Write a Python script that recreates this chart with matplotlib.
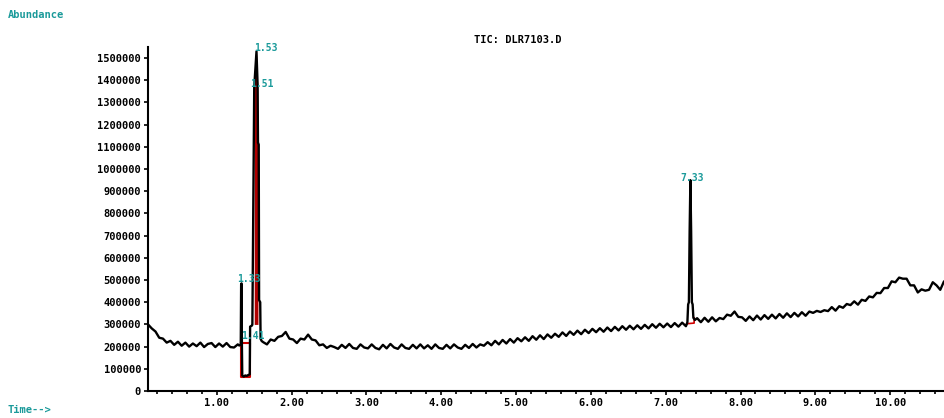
import numpy as np
import matplotlib.pyplot as plt

# ---- data, abundance in thousands ----
# early baseline, t = 0.08 .. 1.28 step 0.05
seg_a_start = 0.08
seg_a = [300, 282, 268, 240, 236, 218, 226, 208, 222, 204,
         218, 200, 214, 202, 218, 198, 212, 216, 198, 214,
         200, 216, 198, 196, 210]

# peak cluster around 1.3 - 1.6 min
peak1_t = [1.30, 1.32, 1.325, 1.33, 1.335, 1.34, 1.36, 1.38, 1.40, 1.42,
           1.44, 1.445, 1.47, 1.475, 1.50, 1.53, 1.545, 1.55, 1.56, 1.565,
           1.58, 1.585, 1.60]
peak1_y = [205, 210, 480, 485, 210, 70, 65, 70, 68, 72,
           75, 290, 295, 300, 1370, 1530, 1380, 1120, 1110, 410,
           400, 235, 225]

# middle baseline, t = 1.62 .. 7.27 step 0.05
seg_b_start = 1.62
seg_b = [220, 210, 232, 226, 244, 248, 266, 236, 232, 216,
         236, 232, 254, 232, 228, 206, 210, 194, 204, 198,
         190, 208, 194, 212, 194, 190, 210, 196, 192, 210,
         194, 188, 208, 192, 212, 196, 190, 210, 194, 190,
         208, 192, 210, 192, 206, 190, 210, 194, 190, 208,
         192, 210, 196, 190, 208, 194, 212, 196, 210, 204,
         220, 206, 226, 210, 230, 214, 234, 218, 238, 224,
         242, 226, 247, 231, 251, 234, 255, 240, 258, 244,
         264, 248, 268, 253, 272, 256, 276, 261, 280, 265,
         283, 267, 286, 270, 289, 273, 292, 276, 294, 278,
         296, 280, 298, 282, 301, 285, 303, 287, 304, 288,
         306, 290, 308, 292]

# peak at 7.33
peak2_t = [7.28, 7.29, 7.30, 7.31, 7.32, 7.33, 7.34, 7.35, 7.36, 7.37, 7.39]
peak2_y = [300, 310, 390, 400, 720, 950, 720, 400, 390, 330, 320]

# late baseline, t = 7.42 .. 10.77 step 0.05
seg_c_start = 7.42
seg_c = [328, 310, 330, 312, 332, 314, 329, 324, 344, 339,
         358, 334, 332, 316, 336, 319, 340, 322, 342, 325,
         344, 327, 347, 330, 350, 333, 352, 336, 355, 339,
         358, 352, 361, 356, 364, 360, 378, 362, 382, 375,
         392, 387, 404, 389, 411, 406, 426, 422, 442, 441,
         464, 464, 494, 490, 511, 506, 506, 476, 476, 444,
         458, 452, 456, 490, 476, 456, 494, 474]
step = 0.05

# integration marks (red)
dip_t = [1.32, 1.44]
dip_range = [63, 216]
main_t = [1.495, 1.555]
main_base = 300
p733_t = [7.28, 7.38]
p733_base = [303, 306]

peak_labels = ["1.33", "1.41", "1.51", "1.53", "7.33"]
label_pos = [(1.43, 505), (1.48, 250), (1.60, 1385), (1.66, 1545), (7.35, 960)]

title = "TIC: DLR7103.D"
teal = "#1a9a9a"

# ---- assemble trace ----
t_a = seg_a_start + step * np.arange(len(seg_a))
t_b = seg_b_start + step * np.arange(len(seg_b))
t_c = seg_c_start + step * np.arange(len(seg_c))
t = np.concatenate([t_a, peak1_t, t_b, peak2_t, t_c])
y = np.concatenate([seg_a, peak1_y, seg_b, peak2_y, seg_c]) * 1000.0

fig = plt.figure(figsize=(9.44, 4.18), dpi=100)
ax = fig.add_axes([148 / 944, 1 - 391 / 418, 1 - 148 / 944, (391 - 47) / 418])

# red integration areas
mask = (t >= main_t[0]) & (t <= main_t[1])
ax.fill_between(t[mask], main_base * 1000, y[mask], color="#b00000", lw=0)
ax.plot([dip_t[0], dip_t[0], dip_t[1], dip_t[1], dip_t[0]],
        [dip_range[1] * 1000, dip_range[0] * 1000, dip_range[0] * 1000,
         dip_range[1] * 1000, dip_range[1] * 1000], color="#d00000", lw=1.5)
ax.plot([p733_t[0], p733_t[1], p733_t[1]],
        [p733_base[0] * 1000, p733_base[1] * 1000, 330000], color="#d00000", lw=1.2)

ax.plot(t, y, color="black", lw=1.7)

for lab, (lx, ly) in zip(peak_labels, label_pos):
    ax.text(lx, ly * 1000, lab, color=teal, fontsize=7, fontweight="bold",
            family="DejaVu Sans Mono", ha="center", va="center")

ax.set_xlim(0.08, 10.72)
ax.set_ylim(0, 1550000)
ax.set_xticks(np.arange(1, 11))
ax.set_xticklabels([f"{v:.2f}" for v in range(1, 11)])
ax.set_xticks(np.arange(0.2, 10.7, 0.2), minor=True)
ax.set_yticks(np.arange(0, 1500001, 100000))
ax.set_yticklabels([str(v) for v in range(0, 1500001, 100000)])

for s in ["top", "right"]:
    ax.spines[s].set_visible(False)
for s in ["left", "bottom"]:
    ax.spines[s].set_linewidth(1.5)
ax.tick_params(axis="both", which="both", direction="out", length=3, width=1.2,
               labelsize=7.5, pad=2)
ax.tick_params(axis="x", which="minor", length=2)
for lab in ax.get_xticklabels() + ax.get_yticklabels():
    lab.set_fontweight("bold")
    lab.set_family("DejaVu Sans Mono")

fig.text(518 / 944, 1 - 40 / 418, title, ha="center", va="center", fontsize=7.5,
         fontweight="bold", family="DejaVu Sans Mono")
fig.text(8 / 944, 1 - 15 / 418, "Abundance", ha="left", va="center", fontsize=7.5,
         fontweight="bold", color=teal, family="DejaVu Sans Mono")
fig.text(8 / 944, 1 - 410 / 418, "Time-->", ha="left", va="center", fontsize=7.5,
         fontweight="bold", color=teal, family="DejaVu Sans Mono")

fig.savefig("out.png", dpi=100)
